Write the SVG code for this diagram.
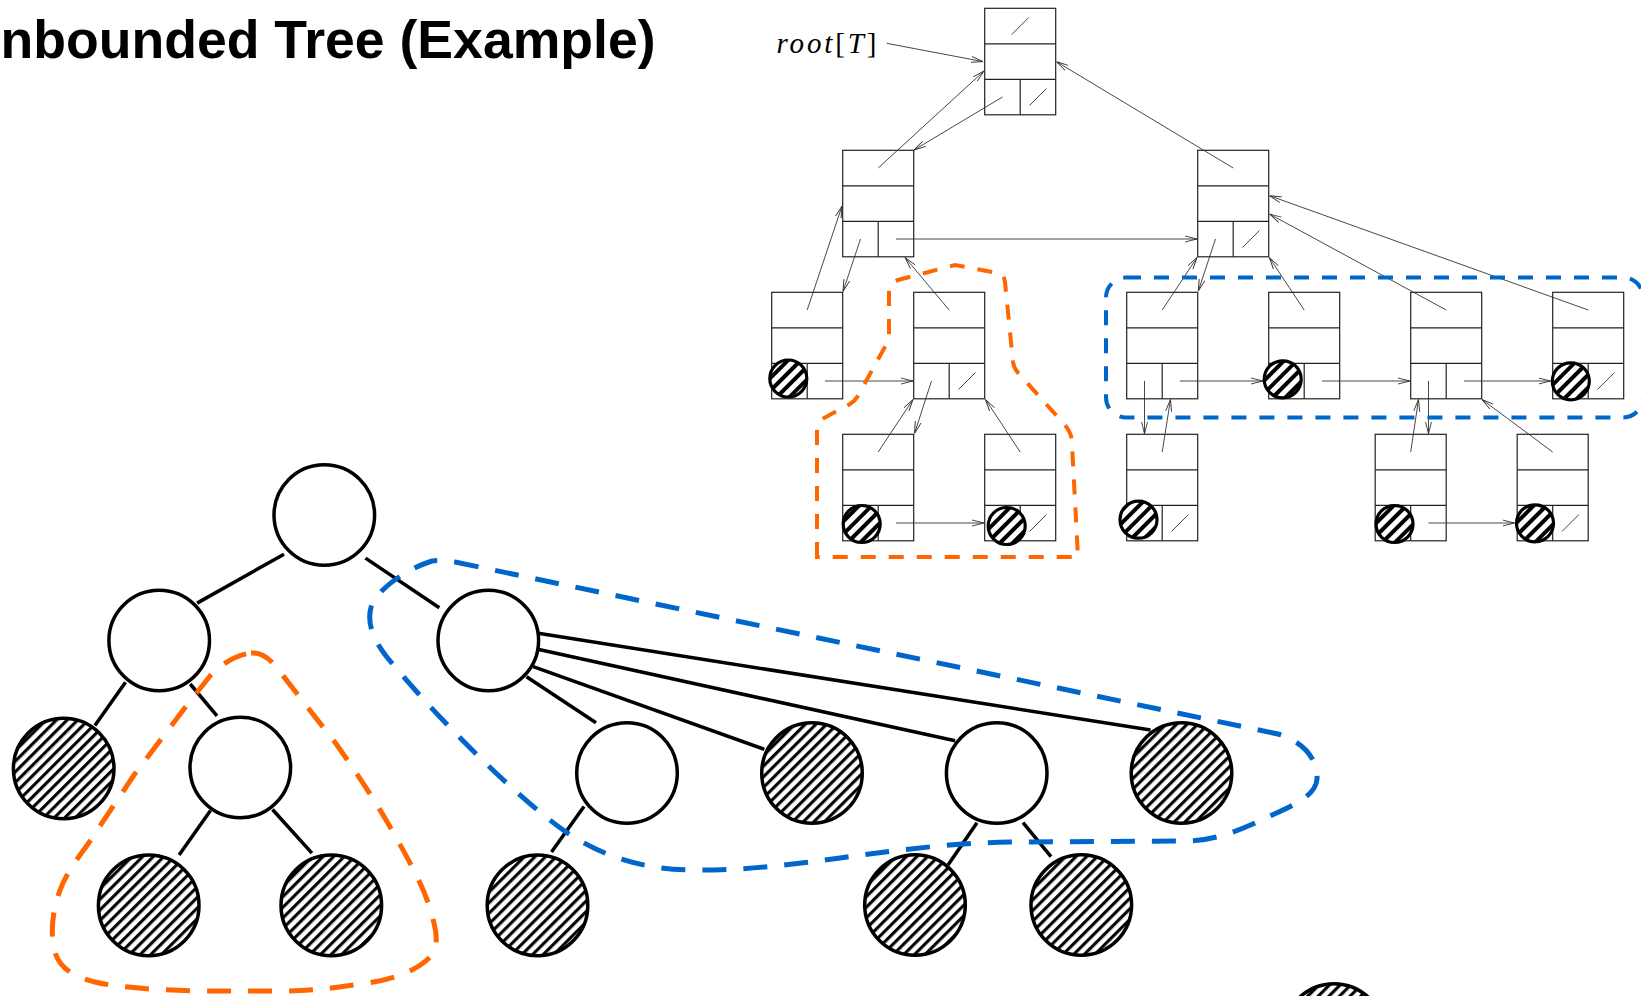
<svg xmlns="http://www.w3.org/2000/svg" xmlns:xlink="http://www.w3.org/1999/xlink" width="1641" height="996" viewBox="0 0 1641 996">
<style>
.box{fill:none;stroke:#222;stroke-width:1.2}
.nil{stroke:#333;stroke-width:0.9}
.ptr{fill:none;stroke:#333;stroke-width:0.9;marker-end:url(#ah)}
.hs{fill:url(#hatchS);stroke:#000;stroke-width:3.2}
.tn{fill:#fff;stroke:#000;stroke-width:3.5}
.tnh{fill:url(#hatchB);stroke:#000;stroke-width:3.5}
.edge{stroke:#000;stroke-width:3.5;fill:none}
.orT{fill:none;stroke:#ff6600;stroke-width:4;stroke-dasharray:15 13}
.blT{fill:none;stroke:#0066cc;stroke-width:4;stroke-dasharray:15 13}
.orB{fill:none;stroke:#ff6600;stroke-width:5;stroke-dasharray:24 17}
.blB{fill:none;stroke:#0066cc;stroke-width:5;stroke-dasharray:24 17}
.title{font-family:"Liberation Sans",Arial,sans-serif;font-weight:bold;font-size:53.6px;fill:#000}
.math{font-family:"Liberation Serif","Times New Roman",serif;font-size:29px;fill:#000}
</style>
<defs>
<marker id="ah" viewBox="0 0 12 8" refX="12" refY="4" markerWidth="12" markerHeight="8" markerUnits="userSpaceOnUse" orient="auto">
<path d="M0,1 L12,4 L0,7" fill="none" stroke="#333" stroke-width="0.9"/>
</marker>
<pattern id="hatchS" patternUnits="userSpaceOnUse" width="9" height="9" patternTransform="rotate(45)">
<rect width="9" height="9" fill="#fff"/>
<line x1="2" y1="0" x2="2" y2="9" stroke="#000" stroke-width="4"/>
</pattern>
<pattern id="hatchB" patternUnits="userSpaceOnUse" width="7.5" height="7.5" patternTransform="rotate(45)">
<rect width="7.5" height="7.5" fill="#fff"/>
<line x1="1.6" y1="0" x2="1.6" y2="7.5" stroke="#000" stroke-width="3.1"/>
</pattern>
<g id="rec"><rect width="71" height="106.5"/><path d="M0,35.5H71M0,71H71M35.5,71V106.5"/></g>
</defs>
<rect width="1641" height="996" fill="#fff"/>

<text class="title" x="0.5" y="58">nbounded Tree (Example)</text>
<text id="label-root" class="math" x="776.5" y="52.5" textLength="100" lengthAdjust="spacing"><tspan font-style="italic">root</tspan>[<tspan font-style="italic">T</tspan>]</text>

<!-- top: linked representation -->
<g id="n-root"><use href="#rec" x="984.7" y="8.3" class="box"/><line class="nil" x1="1011.7" y1="34.55" x2="1028.7" y2="17.55"/><line class="nil" x1="1029.45" y1="105.55" x2="1046.45" y2="88.55"/></g>
<g id="n-l1a"><use href="#rec" x="842.7" y="150.3" class="box"/></g>
<g id="n-l1b"><use href="#rec" x="1197.7" y="150.3" class="box"/><line class="nil" x1="1242.45" y1="247.55" x2="1259.45" y2="230.55"/></g>
<g id="n-e"><use href="#rec" x="771.7" y="292.3" class="box"/></g>
<g id="n-f"><use href="#rec" x="913.7" y="292.3" class="box"/><line class="nil" x1="958.45" y1="389.55" x2="975.45" y2="372.55"/></g>
<g id="n-a"><use href="#rec" x="1126.7" y="292.3" class="box"/></g>
<g id="n-b"><use href="#rec" x="1268.7" y="292.3" class="box"/></g>
<g id="n-c"><use href="#rec" x="1410.7" y="292.3" class="box"/></g>
<g id="n-d"><use href="#rec" x="1552.7" y="292.3" class="box"/><line class="nil" x1="1597.45" y1="389.55" x2="1614.45" y2="372.55"/></g>
<g id="n-g"><use href="#rec" x="842.7" y="434.3" class="box"/></g>
<g id="n-h"><use href="#rec" x="984.7" y="434.3" class="box"/><line class="nil" x1="1029.45" y1="531.55" x2="1046.45" y2="514.55"/></g>
<g id="n-i"><use href="#rec" x="1126.7" y="434.3" class="box"/><line class="nil" x1="1171.45" y1="531.55" x2="1188.45" y2="514.55"/></g>
<g id="n-j"><use href="#rec" x="1375.2" y="434.3" class="box"/></g>
<g id="n-k"><use href="#rec" x="1517.2" y="434.3" class="box"/><line class="nil" x1="1561.95" y1="531.55" x2="1578.95" y2="514.55"/></g>

<g id="pointers">
<path class="ptr" d="M886.7,43.3 L983,61.6"/>
<path class="ptr" d="M1002.5,97 L914,150"/>
<path class="ptr" d="M878.2,168 L984,71"/>
<path class="ptr" d="M1233.2,168 L1056.5,61.7"/>
<path class="ptr" d="M896,239 L1197,239"/>
<path class="ptr" d="M860.5,239 L843,291.5"/>
<path class="ptr" d="M807.2,310 L842,206"/>
<path class="ptr" d="M949.2,310 L905,257.5"/>
<path class="ptr" d="M825,381 L913,381"/>
<path class="ptr" d="M931.5,381 L914.5,433.5"/>
<path class="ptr" d="M878.2,452 L913,399.5"/>
<path class="ptr" d="M1020.2,452 L985.5,399.5"/>
<path class="ptr" d="M896,523 L984,523"/>
<path class="ptr" d="M1215.5,239 L1198.3,291"/>
<path class="ptr" d="M1162.2,310 L1197,257.5"/>
<path class="ptr" d="M1304.2,310 L1269.3,257.5"/>
<path class="ptr" d="M1446.2,310 L1269.5,214"/>
<path class="ptr" d="M1588.2,310 L1269.5,195.7"/>
<path class="ptr" d="M1180,381 L1263,381"/>
<path class="ptr" d="M1322,381 L1410,381"/>
<path class="ptr" d="M1464,381 L1550.5,381"/>
<path class="ptr" d="M1144.5,381 L1144.5,433.8"/>
<path class="ptr" d="M1162.2,452 L1170.5,399.5"/>
<path class="ptr" d="M1428.5,381 L1428.5,433.8"/>
<path class="ptr" d="M1410.7,452 L1418.5,399.5"/>
<path class="ptr" d="M1552.7,452 L1482,399.5"/>
<path class="ptr" d="M1428.5,523 L1514.5,523"/>
</g>

<g id="nil-children">
<circle class="hs" cx="788.3" cy="378.5" r="18.5"/>
<circle class="hs" cx="861.7" cy="524" r="18.5"/>
<circle class="hs" cx="1006.7" cy="526" r="18.5"/>
<circle class="hs" cx="1282.7" cy="379.3" r="18.5"/>
<circle class="hs" cx="1570.8" cy="381.3" r="18.5"/>
<circle class="hs" cx="1138.5" cy="519.7" r="18.5"/>
<circle class="hs" cx="1394.5" cy="524" r="18.5"/>
<circle class="hs" cx="1535" cy="523.3" r="18.5"/>
</g>

<!-- bottom: tree -->
<g id="edges">
<path class="edge" d="M284,554.2 L197.1,603.1"/>
<path class="edge" d="M365.5,558.1 L439.3,607.7"/>
<path class="edge" d="M125.5,682.2 L94.9,725.5"/>
<path class="edge" d="M190.2,684 L217,715.9"/>
<path class="edge" d="M210.5,810.6 L179.1,854.9"/>
<path class="edge" d="M272.5,809.5 L311.9,853.1"/>
<path class="edge" d="M526.5,676.7 L596,722.7"/>
<path class="edge" d="M533.2,666.7 L764.3,749.3"/>
<path class="edge" d="M533.2,648.3 L955.1,740.7"/>
<path class="edge" d="M538.3,633.3 L1150.5,730"/>
<path class="edge" d="M584,806.5 L551.5,852"/>
<path class="edge" d="M977,822.7 L948,865"/>
<path class="edge" d="M1023,822.7 L1051,856.7"/>
</g>
<g id="t-root"><circle class="tn" cx="324.3" cy="515" r="50.3"/></g>
<g id="t-l"><circle class="tn" cx="159.2" cy="640.5" r="50.3"/></g>
<g id="t-r"><circle class="tn" cx="488.3" cy="640.5" r="50.3"/></g>
<g id="t-ll"><circle class="tnh" cx="63.7" cy="768.5" r="50.3"/></g>
<g id="t-lr"><circle class="tn" cx="240.3" cy="767.5" r="50.3"/></g>
<g id="t-lrl"><circle class="tnh" cx="148.7" cy="905.4" r="50.3"/></g>
<g id="t-lrr"><circle class="tnh" cx="331.3" cy="905.4" r="50.3"/></g>
<g id="t-r1"><circle class="tn" cx="627" cy="773" r="50.3"/></g>
<g id="t-r2"><circle class="tnh" cx="812" cy="773" r="50.3"/></g>
<g id="t-r3"><circle class="tn" cx="996.7" cy="773" r="50.3"/></g>
<g id="t-r4"><circle class="tnh" cx="1181.5" cy="773" r="50.3"/></g>
<g id="t-r1a"><circle class="tnh" cx="537.5" cy="905.4" r="50.3"/></g>
<g id="t-r3a"><circle class="tnh" cx="915" cy="905" r="50.3"/></g>
<g id="t-r3b"><circle class="tnh" cx="1081.3" cy="905" r="50.3"/></g>
<g id="t-extra"><circle class="tnh" cx="1334" cy="1034" r="50.3"/></g>

<g id="groups">
<path class="orT" d="M817,557 L817,431 C817,424 820,420 826,417 L850,404 C855,401 857,398 860,392 L886,345 C888,341 889,338 889,333 L889,293 C889,285 892,282 898,280 L955,265 L998,273 C1003,274 1004,277 1005,282 L1013,362 C1014,368 1016,371 1020,375 L1064,424 C1070,431 1072,436 1072,445 L1078,557 Z"/>
<rect class="blT" x="1106" y="277.5" width="537" height="140" rx="20" ry="20"/>
<path class="blB" d="M455,562 L1278,734 C1302,741 1318,758 1317,779 C1316,796 1292,806 1270,816 C1245,828 1218,840 1190,841 L1010,842 C950,843 890,851 840,858 C790,865 740,871 690,870 C640,869 600,855 566,832 C520,800 440,722 386,656 C372,638 366,620 372,604 C382,585 410,568 432,561 C440,560 448,561 455,562 Z"/>
<path class="orB" d="M251,653 C262,652 270,659 277,668 L337,745 C360,778 380,808 398,841 C412,866 425,890 431,912 C437,932 439,946 431,956 C418,970 395,979 367,983 C335,988 310,991 283,991 L199,991 C160,990 120,988 95,982 C70,976 57,965 54,948 C50,930 53,905 63,883 C70,868 78,858 88,844 L134,775 L184,709 L210,676 C220,665 235,655 251,653 Z"/>
</g>
</svg>
